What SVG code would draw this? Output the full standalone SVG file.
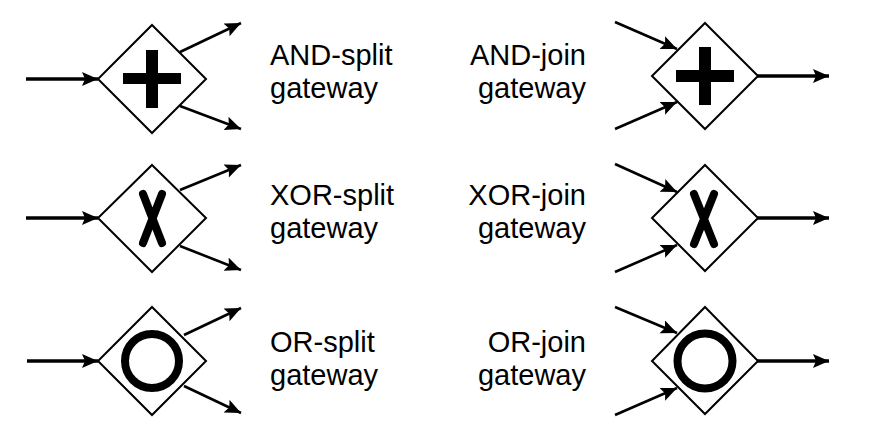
<svg xmlns="http://www.w3.org/2000/svg" width="879" height="439" viewBox="0 0 879 439">
<style>
.gw{fill:#fff;stroke:#000;stroke-width:2}
.in{stroke:#000;stroke-width:3.5;fill:none}
.ln{stroke:#000;stroke-width:2.6;fill:none}
.mk{fill:#000;stroke:none}
.ring{fill:none;stroke:#000;stroke-width:8}
.x{stroke:#000;stroke-width:8;stroke-linecap:round;fill:none}
.t{font-family:"Liberation Sans",Arial,sans-serif;font-size:29px;fill:#000}
.r{text-anchor:end}
</style>
<defs>
<marker id="ah" markerUnits="userSpaceOnUse" markerWidth="18" markerHeight="16" refX="16" refY="7" orient="auto" viewBox="0 0 18 16">
<path class="mk" d="M0,0 L16,7 L0,14 L3,7 z"/>
</marker>
</defs>
<rect width="879" height="439" fill="#fff"/>
<g id="connectors">
<line class="in" x1="26" y1="79" x2="98" y2="79" marker-end="url(#ah)"/>
<line class="ln" x1="180" y1="52" x2="241" y2="23" marker-end="url(#ah)"/>
<line class="ln" x1="180" y1="106" x2="241" y2="129" marker-end="url(#ah)"/>
<line class="ln" x1="615" y1="22" x2="677" y2="49" marker-end="url(#ah)"/>
<line class="ln" x1="615" y1="129" x2="677" y2="102" marker-end="url(#ah)"/>
<line class="in" x1="757" y1="76" x2="829" y2="76" marker-end="url(#ah)"/>

<line class="in" x1="26" y1="218" x2="98" y2="218" marker-end="url(#ah)"/>
<line class="ln" x1="180" y1="190" x2="241" y2="165" marker-end="url(#ah)"/>
<line class="ln" x1="180" y1="246" x2="241" y2="270" marker-end="url(#ah)"/>
<line class="ln" x1="615" y1="164" x2="677" y2="192" marker-end="url(#ah)"/>
<line class="ln" x1="615" y1="272" x2="677" y2="245" marker-end="url(#ah)"/>
<line class="in" x1="757" y1="218" x2="829" y2="218" marker-end="url(#ah)"/>

<line class="in" x1="27" y1="361" x2="98" y2="361" marker-end="url(#ah)"/>
<line class="ln" x1="184" y1="335" x2="241" y2="308" marker-end="url(#ah)"/>
<line class="ln" x1="184" y1="386" x2="241" y2="413" marker-end="url(#ah)"/>
<line class="ln" x1="615" y1="307" x2="677" y2="333" marker-end="url(#ah)"/>
<line class="ln" x1="615" y1="415" x2="677" y2="388" marker-end="url(#ah)"/>
<line class="in" x1="757" y1="361" x2="829" y2="361" marker-end="url(#ah)"/>
</g>
<g id="and-split">
<polygon class="gw" points="152,25 206,79 152,133 98,79"/>
<rect x="123" y="73" width="58" height="11"/>
<rect x="146" y="50" width="12" height="58"/>
</g>
<g id="and-join">
<polygon class="gw" points="705,23 758,76 705,129 652,76"/>
<rect x="676" y="70" width="58" height="12"/>
<rect x="699" y="47" width="12" height="58"/>
</g>
<g id="xor-split">
<polygon class="gw" points="152,165 206,218 152,272 98,218"/>
<path class="x" d="M143,194 L162,243 M162,194 L143,243"/>
</g>
<g id="xor-join">
<polygon class="gw" points="705,165 758,218 705,271 652,218"/>
<path class="x" d="M694,194 L714,244 M714,194 L694,244"/>
</g>
<g id="or-split">
<polygon class="gw" points="152,307 206,361 152,415 98,361"/>
<circle class="ring" cx="152" cy="361" r="27"/>
</g>
<g id="or-join">
<polygon class="gw" points="705,307 758,361 705,414 652,361"/>
<circle class="ring" cx="705" cy="361" r="27.5"/>
</g>
<g id="labels">
<text class="t" x="270" y="65">AND-split</text>
<text class="t" x="270" y="98">gateway</text>
<text class="t r" x="586" y="65">AND-join</text>
<text class="t r" x="586" y="98">gateway</text>
<text class="t" x="270" y="205">XOR-split</text>
<text class="t" x="270" y="238">gateway</text>
<text class="t r" x="586" y="205">XOR-join</text>
<text class="t r" x="586" y="238">gateway</text>
<text class="t" x="270" y="352">OR-split</text>
<text class="t" x="270" y="385">gateway</text>
<text class="t r" x="586" y="352">OR-join</text>
<text class="t r" x="586" y="385">gateway</text>
</g>
</svg>
